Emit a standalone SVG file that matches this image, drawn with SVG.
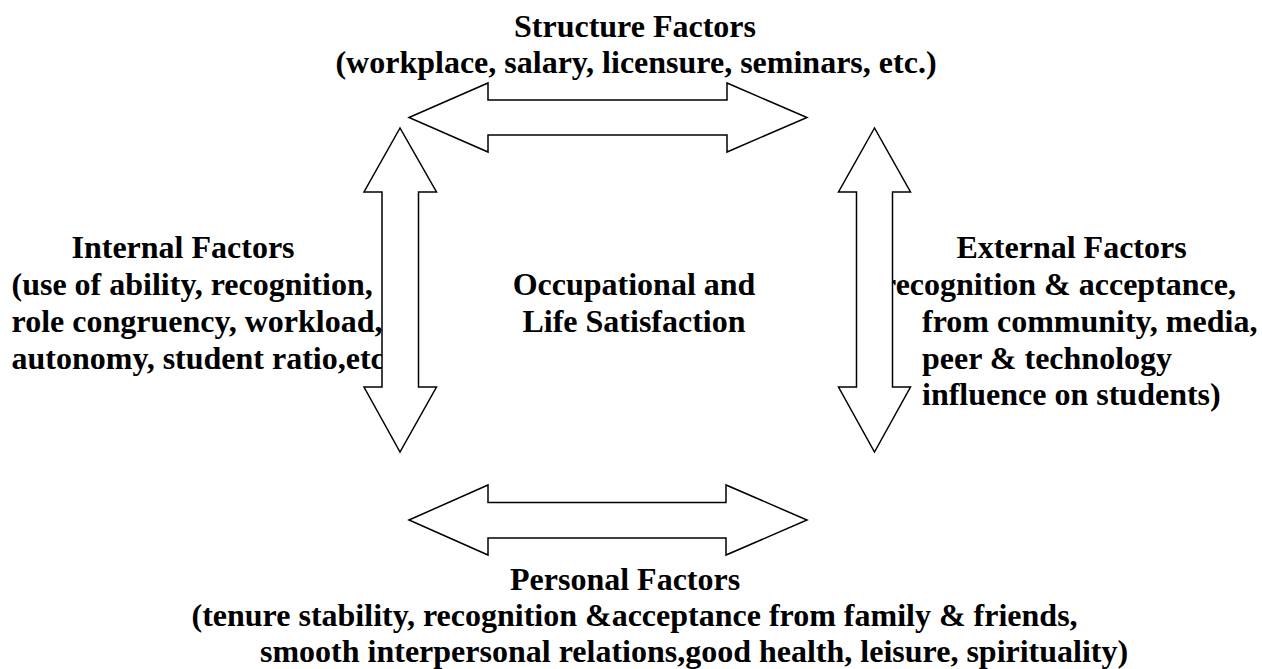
<svg xmlns="http://www.w3.org/2000/svg" width="1262" height="669" viewBox="0 0 1262 669">
<style>
  .t { font-family: "Liberation Serif", "Times New Roman", serif; font-weight: bold; font-size: 32px; fill: #000; }
  .c { text-anchor: middle; }
  .arrow { fill: #fff; stroke: #000; stroke-width: 1.5; stroke-linejoin: miter; }
</style>
<rect x="0" y="0" width="1262" height="669" fill="#fff"/>
<g id="node-structure">
  <text class="t c" x="635" y="37">Structure Factors</text>
  <text class="t c" x="636" y="73">(workplace, salary, licensure, seminars, etc.)</text>
</g>
<g id="node-internal">
  <text class="t" x="71.5" y="258">Internal Factors</text>
  <text class="t" x="11.5" y="295">(use of ability, recognition,</text>
  <text class="t" x="11.5" y="332">role congruency, workload,</text>
  <text class="t" x="11.5" y="369">autonomy, student ratio,etc</text>
</g>
<g id="node-center">
  <text class="t c" x="634" y="295">Occupational and</text>
  <text class="t c" x="634" y="332">Life Satisfaction</text>
</g>
<g id="node-external">
  <text class="t" x="956.5" y="258">External Factors</text>
  <text class="t" x="882" y="295">recognition &amp; acceptance,</text>
  <text class="t" x="922" y="332">from community, media,</text>
  <text class="t" x="922" y="369">peer &amp; technology</text>
  <text class="t" x="922" y="405">influence on students)</text>
</g>
<g id="node-personal">
  <text class="t" x="510" y="590">Personal Factors</text>
  <text class="t" x="191.5" y="626">(tenure stability, recognition &amp;acceptance from family &amp; friends,</text>
  <text class="t" x="260" y="662">smooth interpersonal relations,good health, leisure, spirituality)</text>
</g>
<g id="connectors">
  <polygon class="arrow" points="409,117.5 488,83 488,100 727,100 727,83 807,117.5 727,152 727,135 488,135 488,152"/>
  <polygon class="arrow" points="409,520 488,485 488,502.5 726,502.5 726,485 807,520 726,555 726,538 488,538 488,555"/>
  <polygon class="arrow" points="400,128 364,192 382,192 382,387 364,387 400,452 436.5,387 418.5,387 418.5,192 436.5,192"/>
  <polygon class="arrow" points="874.5,128 838.5,192 856.5,192 856.5,387 838.5,387 874.5,452 910.5,387 892.5,387 892.5,192 910.5,192"/>
</g>
</svg>
